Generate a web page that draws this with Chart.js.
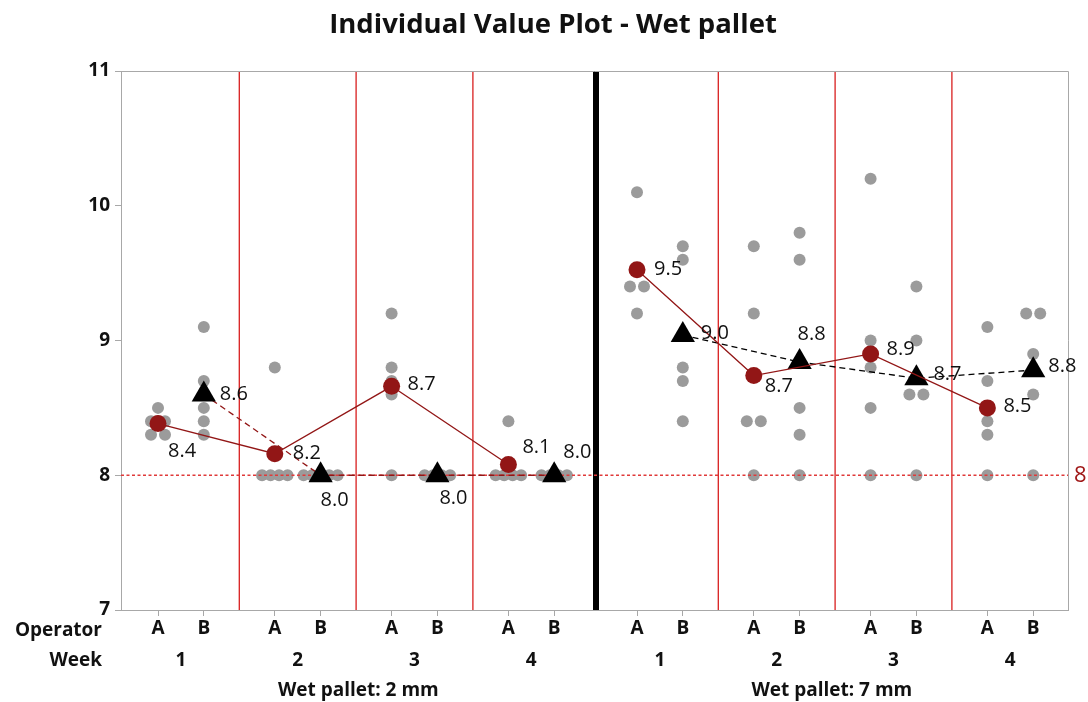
<!DOCTYPE html>
<html>
<head>
<meta charset="utf-8">
<script src="https://cdn.jsdelivr.net/npm/chart.js@4.4.1/dist/chart.umd.min.js"></script>
<style>
  html, body { margin: 0; padding: 0; background: #fff; }
  #wrap { width: 1088px; height: 702px; position: relative; }
</style>
</head>
<body>
<div id="wrap"><canvas id="chart"></canvas></div>
<script>
// ---- data -------------------------------------------------------------
const titleText = 'Individual Value Plot - Wet pallet';
const panels = ['Wet pallet: 2 mm', 'Wet pallet: 7 mm'];
const weeks = ['1', '2', '3', '4'];
const operators = ['A', 'B'];
const yTicks = [7, 8, 9, 10, 11];
const target = 8;

// readings per week (index 0..3) for each operator
const wet2A = [[8.5, 8.4, 8.4, 8.4, 8.3, 8.3], [8.8, 8.0, 8.0, 8.0, 8.0], [9.2, 8.8, 8.7, 8.6, 8.0], [8.4, 8.0, 8.0, 8.0, 8.0]];
const wet2B = [[9.1, 8.7, 8.5, 8.4, 8.3], [8.0, 8.0, 8.0, 8.0, 8.0], [8.0, 8.0, 8.0, 8.0], [8.0, 8.0, 8.0, 8.0]];
const wet7A = [[10.1, 9.4, 9.4, 9.2], [9.7, 9.2, 8.4, 8.4, 8.0], [10.2, 9.0, 8.8, 8.5, 8.0], [9.1, 8.7, 8.4, 8.3, 8.0]];
const wet7B = [[9.7, 9.6, 8.8, 8.7, 8.4], [9.8, 9.6, 8.5, 8.3, 8.0], [9.4, 9.0, 8.6, 8.6, 8.0], [9.2, 9.2, 8.9, 8.6, 8.0]];

// ---- layout helpers ---------------------------------------------------
const X_MAX = 947;                       // horizontal axis units (1 unit ~ 1 px)
const FIRST = 37, PANEL_STEP = 479, WEEK_STEP = 116.8, OP_STEP = 45.8;
const catX = (p, w, o) => FIRST + p * PANEL_STEP + w * WEEK_STEP + o * OP_STEP;

// mean label offsets [dx, dy] per panel -> operator -> week
const labelOffsets = [
  [[[10, 28], [18, 0], [16, -2], [14, -17]], [[16, 0], [0, 25], [2, 23], [9, -23]]],
  [[[17, 0], [11, 11], [16, -5], [16, -2]], [[18, -2], [-2, -28], [17, -4], [15, -4]]]
];

const GREY = '#9b9b9b', DARK_RED = '#921616', DIV_RED = '#d81e1e', REF_RED = '#e03a3a';
const FONT = "'Open Sans', 'Noto Sans', sans-serif";

const groups = [[wet2A, wet2B], [wet7A, wet7B]];
const mean = arr => arr.reduce((s, v) => s + v, 0) / arr.length;

// tied readings are set side by side around the category position
function spread(vals) {
  const counts = {}, seen = {};
  vals.forEach(v => { counts[v] = (counts[v] || 0) + 1; });
  return vals.map(v => {
    const k = counts[v];
    const i = seen[v] = (seen[v] || 0) + 1;
    const step = k === 2 ? 14 : (k === 3 ? 7 : 8.5);
    return (i - 1 - (k - 1) / 2) * step;
  });
}

const dotData = [];
groups.forEach((pair, p) => pair.forEach((byWeek, o) => byWeek.forEach((vals, w) => {
  const offs = spread(vals);
  vals.forEach((v, i) => dotData.push({ x: catX(p, w, o) + offs[i], y: v }));
})));

const meanSeries = (p, o) => groups[p][o].map((vals, w) => ({ x: catX(p, w, o), y: mean(vals) }));

const tickPositions = [];
[0, 1].forEach(p => weeks.forEach((_, w) => operators.forEach((_, o) => tickPositions.push(catX(p, w, o)))));

const weekDividers = [];
[0, 1].forEach(p => [0, 1, 2].forEach(w => weekDividers.push((catX(p, w, 1) + catX(p, w + 1, 0)) / 2)));
const panelDivider = (catX(0, 3, 1) + catX(1, 0, 0)) / 2;

// ---- datasets ---------------------------------------------------------
const circleStyle = { pointStyle: 'circle', pointRadius: 8.5, pointBackgroundColor: DARK_RED, pointBorderWidth: 0 };
const triStyle = { pointStyle: 'triangle', pointRadius: 14, pointBackgroundColor: '#000', pointBorderWidth: 0 };

const datasets = [
  { label: 'A 2mm', data: meanSeries(0, 0), showLine: true, borderColor: DARK_RED, borderWidth: 1.3, order: 1, ...circleStyle },
  { label: 'A 7mm', data: meanSeries(1, 0), showLine: true, borderColor: DARK_RED, borderWidth: 1.3, order: 1, ...circleStyle },
  { label: 'B 2mm', data: meanSeries(0, 1), showLine: true, borderColor: DARK_RED, borderWidth: 1.3, borderDash: [6, 4], order: 2, ...triStyle },
  { label: 'B 7mm', data: meanSeries(1, 1), showLine: true, borderColor: '#000', borderWidth: 1.3, borderDash: [6, 4], order: 2, ...triStyle },
  { label: 'target', data: [{ x: 0, y: target }, { x: X_MAX, y: target }], showLine: true, borderColor: REF_RED,
    borderWidth: 1.5, borderDash: [3, 2.5], pointRadius: 0, order: 3 },
  { label: 'readings', data: dotData, pointStyle: 'circle', pointRadius: 6, pointBackgroundColor: GREY, pointBorderWidth: 0, order: 4 }
];

// ---- decorations --------------------------------------------------------
const decor = {
  id: 'decor',
  beforeDatasetsDraw(chart) {
    const { ctx, chartArea: a, scales: { x } } = chart;
    ctx.save();
    ctx.strokeStyle = DIV_RED;
    ctx.lineWidth = 1.3;
    weekDividers.forEach(v => {
      const px = x.getPixelForValue(v);
      ctx.beginPath(); ctx.moveTo(px, a.top); ctx.lineTo(px, a.bottom); ctx.stroke();
    });
    const pd = x.getPixelForValue(panelDivider);
    ctx.fillStyle = '#000';
    ctx.fillRect(Math.round(pd - 3), a.top, 6, a.bottom - a.top);
    ctx.strokeStyle = '#a8a8a8';
    ctx.lineWidth = 1;
    ctx.beginPath();
    ctx.moveTo(a.left, a.top + 0.5); ctx.lineTo(a.right + 0.5, a.top + 0.5);
    ctx.lineTo(a.right + 0.5, a.bottom);
    ctx.stroke();
    ctx.restore();
  },
  afterDatasetsDraw(chart) {
    const { ctx, chartArea: a, scales: { x, y } } = chart;
    ctx.save();
    // mean values
    ctx.font = `400 20px ${FONT}`;
    ctx.fillStyle = '#111';
    ctx.textAlign = 'left';
    ctx.textBaseline = 'middle';
    [[0, 0, 0], [1, 0, 1], [0, 1, 2], [1, 1, 3]].forEach(([p, o, di]) => {
      const meta = chart.getDatasetMeta(di);
      groups[p][o].forEach((vals, w) => {
        const pt = meta.data[w];
        const [dx, dy] = labelOffsets[p][o][w];
        ctx.fillText(mean(vals).toFixed(1), pt.x + dx, pt.y + dy);
      });
    });
    // target value
    ctx.fillStyle = '#a01818';
    ctx.font = `400 22px ${FONT}`;
    ctx.fillText(String(target), a.right + 6, y.getPixelForValue(target));

    // title
    ctx.fillStyle = '#111';
    ctx.textAlign = 'center';
    ctx.textBaseline = 'alphabetic';
    ctx.font = `700 27.5px ${FONT}`;
    ctx.fillText(titleText, 553, 33);

    // row captions
    ctx.font = `700 19px ${FONT}`;
    ctx.textAlign = 'right';
    ctx.fillText('Operator', 102, 636);
    ctx.fillText('Week', 102, 666);
    ctx.textAlign = 'center';
    [0, 1].forEach(p => weeks.forEach((wk, w) => {
      const cx = x.getPixelForValue((catX(p, w, 0) + catX(p, w, 1)) / 2);
      ctx.fillText(wk, cx, 666);
    }));
    [0, 1].forEach(p => {
      const l = p === 0 ? a.left : x.getPixelForValue(panelDivider);
      const r = p === 0 ? x.getPixelForValue(panelDivider) : a.right;
      ctx.fillText(panels[p], (l + r) / 2, 696);
    });
    ctx.restore();
  }
};

Chart.defaults.font.family = FONT;
Chart.defaults.color = '#111';

new Chart(document.getElementById('chart'), {
  type: 'scatter',
  data: { datasets },
  options: {
    responsive: true,
    maintainAspectRatio: false,
    animation: false,
    events: [],
    layout: { padding: { left: 0, right: 20, top: 71, bottom: 0 } },
    plugins: { legend: { display: false }, tooltip: { enabled: false }, title: { display: false } },
    scales: {
      x: {
        type: 'linear', min: 0, max: X_MAX,
        afterFit: s => { s.height = 92; },
        afterBuildTicks: s => { s.ticks = tickPositions.map(v => ({ value: v })); },
        ticks: {
          autoSkip: false, maxRotation: 0, padding: 1,
          font: { size: 19, weight: 700 }, color: '#111',
          callback: (v, i) => operators[i % 2]
        },
        grid: { drawOnChartArea: false, drawTicks: true, tickLength: 6, color: '#a8a8a8' },
        border: { color: '#a8a8a8' }
      },
      y: {
        min: 7, max: 11,
        afterFit: s => { s.width = 121; },
        afterBuildTicks: s => { s.ticks = yTicks.map(v => ({ value: v })); },
        ticks: { padding: 5, font: { size: 19, weight: 700 }, color: '#111' },
        grid: { drawOnChartArea: false, drawTicks: true, tickLength: 6, color: '#a8a8a8' },
        border: { color: '#a8a8a8' }
      }
    }
  },
  plugins: [decor]
});
</script>
</body>
</html>
